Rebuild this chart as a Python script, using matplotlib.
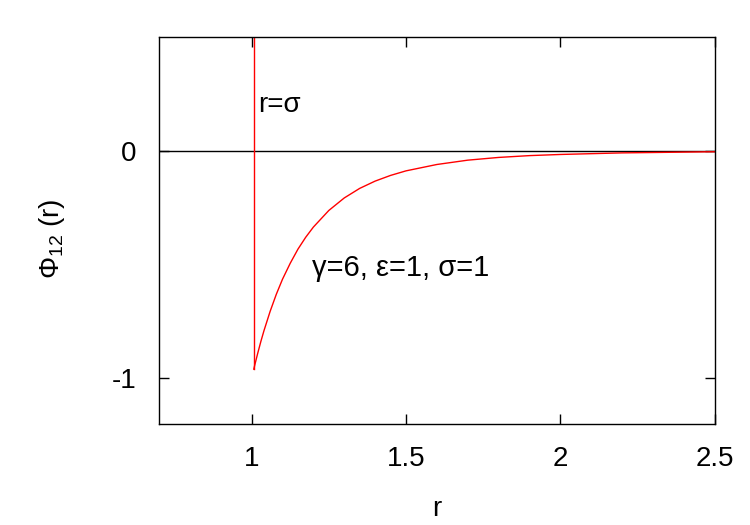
import matplotlib.pyplot as plt

plt.rcParams['font.family'] = ['Liberation Sans', 'DejaVu Sans']
plt.rcParams['mathtext.default'] = 'regular'

# values
sigma = 1.0
r = [1.007, 1.01, 1.02, 1.03, 1.04, 1.06, 1.08, 1.10, 1.125, 1.15, 1.175, 1.20,
     1.25, 1.30, 1.35, 1.40, 1.45, 1.50, 1.60, 1.70, 1.80, 1.90, 2.00, 2.20, 2.50]
phi = [-0.959, -0.942, -0.888, -0.837, -0.790, -0.705, -0.630, -0.564, -0.494,
       -0.432, -0.380, -0.335, -0.262, -0.207, -0.165, -0.133, -0.108, -0.088,
       -0.060, -0.041, -0.029, -0.021, -0.016, -0.009, -0.004]
xticks = [1, 1.5, 2, 2.5]
yticks = [-1, 0]

fig = plt.figure(figsize=(7.5, 5.25), dpi=100)
ax = fig.add_axes([0.212, 0.1924, 0.741, 0.7371])

ax.axhline(0, color='black', lw=1)
# hard wall at r = sigma, then the attractive tail
ax.plot([r[0], r[0]], [0.6, phi[0]], color='red', lw=1)
ax.plot(r, phi, color='red', lw=1)

ax.set_xlim(0.7, 2.5)
ax.set_ylim(-1.2, 0.5)
ax.set_xticks(xticks)
ax.set_xticklabels(['1', '1.5', '2', '2.5'])
ax.set_yticks(yticks)
ax.set_yticklabels(['-1', '0'])
ax.tick_params(direction='in', length=7, width=1, labelsize=20,
               top=True, right=True)
ax.tick_params(axis='x', pad=16)
ax.tick_params(axis='y', pad=16)
for s in ax.spines.values():
    s.set_linewidth(1)

ax.set_xlabel('r', fontsize=20)
ax.xaxis.set_label_coords(0.5, -0.185)
ax.set_ylabel('Φ$_{12}$ (r)', fontsize=20)
ax.yaxis.set_label_coords(-0.165, 0.48)

ax.text(1.022, 0.2, 'r=σ', fontsize=20, va='center', ha='left')
ax.text(1.197, -0.515, 'γ=6, ε=1, σ=1', fontsize=21, va='center', ha='left')

fig.savefig('out.png', dpi=100)
